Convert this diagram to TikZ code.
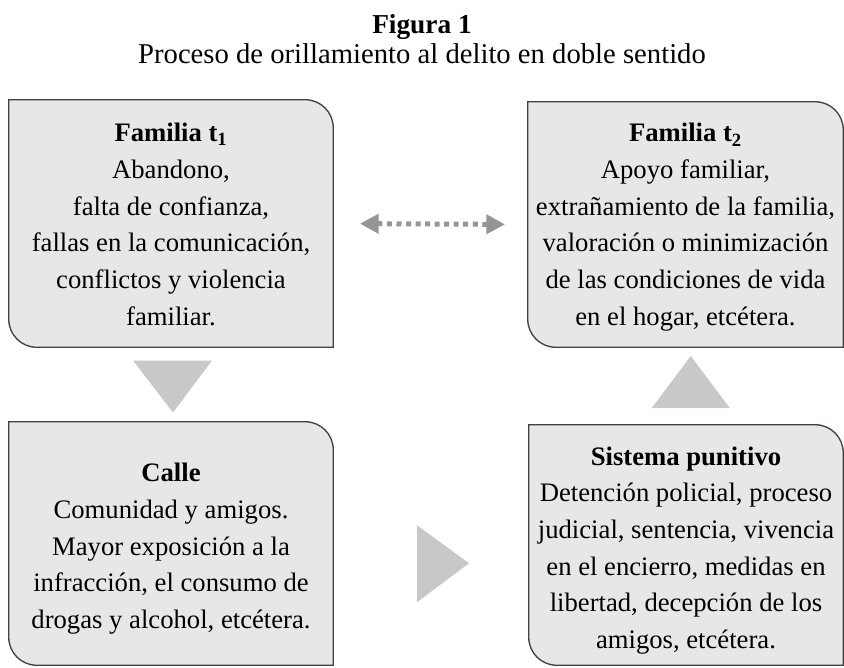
\documentclass[tikz,border=0pt]{standalone}
\usepackage{fontspec}
\setmainfont{Liberation Serif}
\usetikzlibrary{arrows.meta,calc,backgrounds}
\definecolor{cajafill}{HTML}{E6E7E8}
\definecolor{cajaborde}{HTML}{414042}
\definecolor{flechagris}{HTML}{C7C8CA}
\definecolor{puntosgris}{HTML}{939598}
\tikzset{
  texto/.style={font=\fontsize{20}{27.5}\selectfont,align=center,inner sep=0pt},
  caja/.style 2 args={inner sep=0pt,minimum width=#1,minimum height=#2},
  contorno/.style={fill=cajafill,draw=cajaborde,line width=1pt},
  flecha/.style={fill=flechagris},
  doble/.style={draw=puntosgris,line width=3.75pt,dash pattern=on 3.75pt off 3.4pt,
    {Triangle[length=14pt,width=14pt]}-{Triangle[length=14pt,width=14pt]}}
}
\begin{document}
\begin{tikzpicture}[x=0.75pt,y=-0.75pt]
 \useasboundingbox (0,0) rectangle (844,668);
 \node[font=\fontsize{20.5}{27.5}\selectfont\bfseries,anchor=base] (titulo) at (422,33) {Figura 1};
 \node[font=\fontsize{21.5}{27.5}\selectfont,anchor=base] (subtitulo) at (422,63) {Proceso de orillamiento al delito en doble sentido};
 \node[caja={243pt}{185.25pt}] (fam1) at (171,223.5) {};
 \node[caja={236.25pt}{183.75pt}] (fam2) at (685.5,224.5) {};
 \node[caja={243pt}{182.25pt}] (calle) at (171,543.5) {};
 \node[caja={235.5pt}{180pt}] (sist) at (686,545) {};
 \foreach \n in {fam1,fam2,calle,sist}
  \draw[contorno] (\n.north west) -- ([xshift=-21pt]\n.north east) arc[start angle=90,end angle=0,radius=21pt] -- (\n.south east) -- ([xshift=21pt]\n.south west) arc[start angle=270,end angle=180,radius=21pt] -- cycle;
 \node[texto] (fam1txt) at ([yshift=-0.6pt]fam1.center) {\textbf{Familia t\textsubscript{1}}\\Abandono,\\falta de confianza,\\fallas en la comunicación,\\conflictos y violencia\\familiar.};
 \node[texto] (fam2txt) at ([yshift=-2pt]fam2.center) {\textbf{Familia t\textsubscript{2}}\\Apoyo familiar,\\extrañamiento de la familia,\\valoración o minimización\\de las condiciones de vida\\en el hogar, etcétera.};
 \node[texto] (calletxt) at ([yshift=-4pt]calle.center) {\textbf{Calle}\\Comunidad y amigos.\\Mayor exposición a la\\infracción, el consumo de\\drogas y alcohol, etcétera.};
 \node[texto] (sisttxt) at ([yshift=-4.1pt]sist.center) {\textbf{Sistema punitivo}\\Detención policial, proceso\\judicial, sentencia, vivencia\\en el encierro, medidas en\\libertad, decepción de los\\amigos, etcétera.};
 \fill[flecha] ($(fam1.south)!0.5!(calle.north)$) +(-38,-24) -- +(41,-24) -- +(2,28) -- cycle;
 \fill[flecha] ($(fam2.south)!0.5!(sist.north)$) +(-34,22) -- +(44,22) -- +(5,-30) -- cycle;
 \fill[flecha] ($(calle.east)!0.5!(sist.west)$) +(-14,-19) -- +(-14,58) -- +(38,19) -- cycle;
 \draw[doble,shorten <=20pt,shorten >=17pt] (fam1.east) -- (fam2.west);
\end{tikzpicture}
\end{document}
